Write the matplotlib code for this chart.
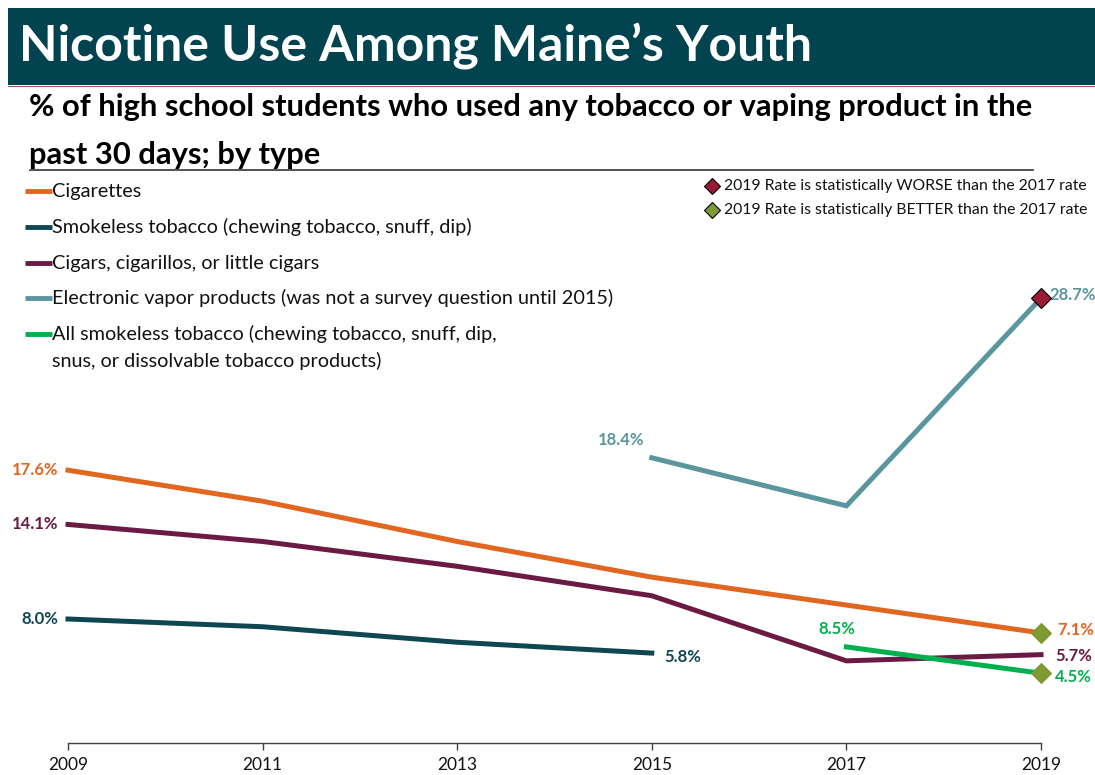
import matplotlib
matplotlib.use("Agg")
import matplotlib.pyplot as plt
from matplotlib.lines import Line2D
from matplotlib.patches import Rectangle

plt.rcParams['font.family'] = ['Lato', 'DejaVu Sans']

W, H = 1095, 775

# ---- data ----
years = [2009, 2011, 2013, 2015, 2017, 2019]
cigarettes = [17.6, 15.6, 13.0, 10.7, 8.9, 7.1]
smokeless = [8.0, 7.5, 6.5, 5.8, None, None]
cigars = [14.1, 13.0, 11.4, 9.5, 5.3, 5.7]
vapor = [None, None, None, 18.4, 15.3, 28.7]
all_smokeless = [None, None, None, None, 6.2, 4.5]

series_names = [
    "Cigarettes",
    "Smokeless tobacco (chewing tobacco, snuff, dip)",
    "Cigars, cigarillos, or little cigars",
    "Electronic vapor products (was not a survey question until 2015)",
    "All smokeless tobacco (chewing tobacco, snuff, dip,\nsnus, or dissolvable tobacco products)",
]
colors = ["#E1661F", "#0E4751", "#6A1A43", "#5A969D", "#00B04F"]
marker_legend = ["2019 Rate is statistically WORSE than the 2017 rate",
                 "2019 Rate is statistically BETTER than the 2017 rate"]
worse_color = "#9C1B34"
better_color = "#7F9934"

# labels: (series index, year, text, offset points, ha, va)
labels = [
    (0, 2009, "17.6%", (-7, 0), "right", "center"),
    (2, 2009, "14.1%", (-7, 0), "right", "center"),
    (1, 2009, "8.0%", (-7, 0), "right", "center"),
    (3, 2015, "18.4%", (-5, 13), "right", "center"),
    (1, 2015, "5.8%", (9, -3), "left", "center"),
    (4, 2017, "8.5%", (-7, 13), "center", "center"),
    (3, 2019, "28.7%", (6, 2), "left", "center"),
    (0, 2019, "7.1%", (12, 2), "left", "center"),
    (2, 2019, "5.7%", (10, -1), "left", "center"),
    (4, 2019, "4.5%", (10, -3), "left", "center"),
]
# 2019 significance markers: (series index, 'worse'/'better')
sig_markers = [(3, "worse"), (0, "better"), (4, "better")]

data = [cigarettes, smokeless, cigars, vapor, all_smokeless]

fig = plt.figure(figsize=(W / 100, H / 100), dpi=100)

def fx(x):
    return x / W

def fy(y):
    return 1 - y / H

# title bar
fig.patches.append(Rectangle((fx(8), fy(85)), fx(W - 8), 77 / H, transform=fig.transFigure,
                             facecolor="#01434F", edgecolor="none", zorder=0))
fig.lines.append(Line2D([fx(8), 1], [fy(86), fy(86)], transform=fig.transFigure,
                        color="#B05060", lw=0.8))
fig.text(fx(19), fy(46), "Nicotine Use Among Maine\u2019s Youth", color="white",
         fontsize=36, fontweight="bold", va="center", ha="left")

# subtitle
fig.text(fx(29), fy(107), "% of high school students who used any tobacco or vaping product in the",
         fontsize=22.2, fontweight="bold", va="center", ha="left", color="black")
fig.text(fx(29), fy(155), "past 30 days; by type",
         fontsize=22.2, fontweight="bold", va="center", ha="left", color="black")
fig.lines.append(Line2D([fx(30), fx(1033)], [fy(170), fy(170)], transform=fig.transFigure,
                        color="#333333", lw=1.2))

# left legend
leg_y = [191, 227, 263, 298, 334]
for name, c, y in zip(series_names, colors, leg_y):
    fig.lines.append(Line2D([fx(25), fx(52)], [fy(y), fy(y)], transform=fig.transFigure,
                            color=c, lw=3.5, solid_capstyle="butt"))
    parts = name.split("\n")
    for k, part in enumerate(parts):
        fig.text(fx(52), fy(y + 27 * k), part, fontsize=14.3, va="center", ha="left",
                 color="#111111")

# right marker legend
for txt, mc, y in zip(marker_legend, [worse_color, better_color], [186, 210]):
    fig.lines.append(Line2D([fx(712)], [fy(y)], transform=fig.transFigure, marker="D",
                            markersize=8, markerfacecolor=mc, markeredgecolor="black",
                            markeredgewidth=0.8, linestyle="none"))
    fig.text(fx(724), fy(y), txt, fontsize=11.3, va="center", ha="left", color="#111111")

# axes
ax = fig.add_axes([fx(68), fy(743), fx(1041) - fx(68), (743 - 278) / H])
ax.set_xlim(2009, 2019)
ax.set_ylim(0, 30)
for i, (vals, c) in enumerate(zip(data, colors)):
    xs = [yr for yr, v in zip(years, vals) if v is not None]
    ys = [v for v in vals if v is not None]
    ax.plot(xs, ys, color=c, lw=3.6, clip_on=False, solid_joinstyle="miter", zorder=3)

for si, kind in sig_markers:
    v = data[si][years.index(2019)]
    ax.plot([2019], [v], marker="D", markersize=10,
            markerfacecolor=worse_color if kind == "worse" else better_color,
            markeredgecolor="black" if kind == "worse" else better_color,
            markeredgewidth=0.8, linestyle="none", clip_on=False, zorder=5)

for si, yr, txt, off, ha, va in labels:
    v = data[si][years.index(yr)]
    ax.annotate(txt, xy=(yr, v), xytext=off, textcoords="offset points", ha=ha, va=va,
                color=colors[si], fontsize=12, fontweight="bold", annotation_clip=False)

for s in ["top", "right", "left"]:
    ax.spines[s].set_visible(False)
ax.spines["bottom"].set_color("#404040")
ax.spines["bottom"].set_linewidth(1.0)
ax.set_yticks([])
ax.set_xticks(years)
ax.set_xticklabels([str(y) for y in years], fontsize=12.5, color="#111111")
ax.tick_params(axis="x", direction="out", length=5, width=1, color="#404040", pad=5)
ax.patch.set_alpha(0)

fig.savefig("out.png", dpi=100)
